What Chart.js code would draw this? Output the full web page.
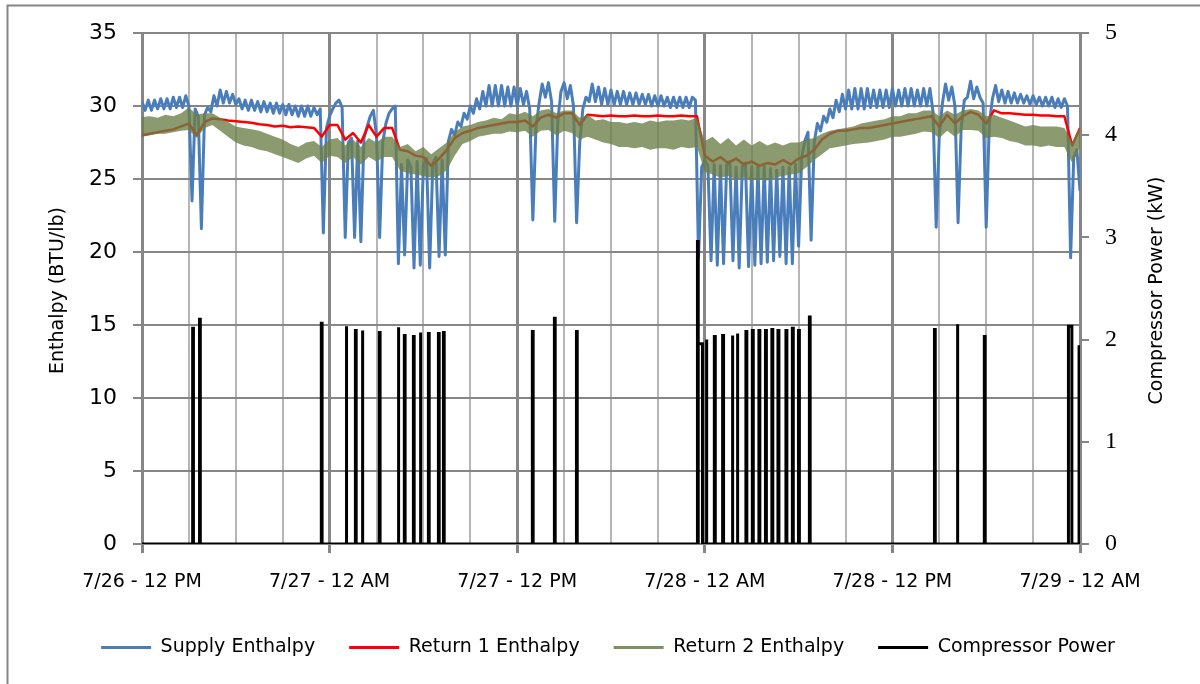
<!DOCTYPE html>
<html>
<head>
<meta charset="utf-8">
<title>Enthalpy and Compressor Power</title>
<script src="https://cdn.jsdelivr.net/npm/chart.js@4.4.1/dist/chart.umd.min.js"></script>
<style>
  html, body { margin: 0; padding: 0; background: #fff; }
  #wrap { width: 1200px; height: 684px; }
</style>
</head>
<body>
<div id="wrap"><canvas id="chart" width="1200" height="684"></canvas></div>
<script>
// Enthalpy / compressor power chart
// ---------------------------------------------------------------------------

// x axis: hours after 7/26 12 PM
const xTickLabels = ['7/26 - 12 PM', '7/27 - 12 AM', '7/27 - 12 PM', '7/28 - 12 AM', '7/28 - 12 PM', '7/29 - 12 AM'];
const leftAxisTitle = 'Enthalpy (BTU/lb)';
const rightAxisTitle = 'Compressor Power (kW)';

// Supply enthalpy, one sample every 0.2 h (BTU/lb)
const supplyStep = 0.2;
const supplyEnthalpy = [
  30.3, 29.7, 30.4, 29.7, 30.4, 29.8, 30.5, 29.8, 30.5, 29.8,
  30.6, 29.9, 30.6, 29.9, 30.7, 30.0, 23.5, 29.8, 29.3, 21.6,
  29.4, 29.9, 29.6, 30.7, 30.0, 31.1, 30.2, 31.0, 30.2, 30.8,
  30.1, 30.5, 29.8, 30.4, 29.7, 30.4, 29.7, 30.3, 29.6, 30.3,
  29.6, 30.2, 29.5, 30.2, 29.5, 30.1, 29.4, 30.1, 29.4, 30.0,
  29.3, 30.0, 29.3, 30.0, 29.3, 29.9, 29.4, 29.8, 21.3, 28.5,
  29.3, 29.8, 30.2, 30.4, 29.9, 21.0, 27.5, 27.8, 21.0, 27.6,
  20.7, 27.8, 28.6, 29.3, 29.7, 28.0, 21.0, 27.5, 28.8, 29.5,
  29.8, 30.0, 19.2, 26.0, 19.8, 26.3, 25.8, 18.9, 26.2, 19.1,
  26.0, 26.4, 18.9, 26.0, 26.5, 19.7, 26.3, 19.8, 27.6, 28.4,
  28.0, 28.9, 28.6, 29.5, 29.1, 30.0, 29.5, 30.5, 29.8, 31.0,
  30.0, 31.4, 30.0, 31.4, 30.0, 31.4, 30.0, 31.3, 30.0, 31.3,
  30.0, 31.2, 30.1, 31.0, 29.8, 22.2, 28.5, 30.2, 31.5, 30.6,
  31.6, 30.3, 22.1, 29.0, 31.0, 31.6, 30.5, 31.4, 30.0, 22.0,
  27.5, 29.8, 30.6, 30.3, 31.5, 30.3, 31.3, 30.1, 31.2, 30.1,
  31.1, 30.1, 31.0, 30.1, 31.0, 30.1, 30.9, 30.1, 30.9, 30.1,
  30.8, 30.1, 30.8, 30.0, 30.7, 30.0, 30.7, 30.0, 30.6, 29.9,
  30.6, 29.9, 30.6, 29.9, 30.6, 29.9, 30.6, 30.4, 19.6, 25.8,
  26.3, 25.9, 19.4, 26.0, 19.1, 25.9, 19.2, 26.0, 26.2, 19.4,
  25.8, 18.9, 25.9, 26.1, 19.0, 25.8, 19.1, 25.8, 19.2, 25.9,
  19.3, 25.7, 19.4, 25.6, 19.7, 25.8, 19.2, 25.8, 19.2, 26.0,
  20.4, 26.5, 27.6, 28.2, 20.8, 27.5, 28.8, 28.3, 29.3, 28.9,
  29.8, 29.2, 30.4, 29.6, 30.8, 29.8, 31.1, 29.8, 31.2, 29.8,
  31.2, 29.8, 31.2, 29.9, 31.1, 29.9, 31.1, 29.9, 31.1, 29.9,
  31.2, 30.0, 31.1, 30.0, 31.2, 30.0, 31.2, 30.0, 31.1, 30.0,
  31.2, 30.0, 31.2, 29.6, 21.7, 28.0, 30.2, 31.5, 30.4, 31.3,
  30.0, 22.0, 28.5, 30.4, 30.6, 31.7, 30.5, 31.3, 30.6, 30.2,
  21.7, 28.8, 30.5, 31.4, 30.3, 31.1, 30.2, 31.0, 30.2, 30.9,
  30.2, 30.8, 30.2, 30.7, 30.1, 30.7, 30.1, 30.6, 30.0, 30.6,
  30.0, 30.6, 29.9, 30.5, 29.9, 30.5, 30.0, 19.6, 26.5, 27.0,
  24.2,
];

// Return enthalpies, one sample every 0.5 h (BTU/lb)
const returnStep = 0.5;
const return1Enthalpy = [
  28.0, 28.1, 28.2, 28.3, 28.4, 28.6, 28.8, 28.0, 28.9, 29.15,
  29.1, 29.0, 28.95, 28.9, 28.85, 28.75, 28.7, 28.6, 28.65, 28.55,
  28.6, 28.55, 28.5, 27.9, 28.7, 28.7, 27.7, 28.15, 27.5, 28.7,
  27.9, 28.5, 28.5, 27.0, 26.9, 26.6, 26.5, 25.9, 26.4, 27.0,
  27.8, 28.15, 28.3, 28.5, 28.6, 28.7, 28.8, 28.9, 28.9, 29.0,
  28.6, 29.2, 29.4, 29.2, 29.5, 29.5, 28.7, 29.4, 29.35, 29.3,
  29.35, 29.3, 29.3, 29.35, 29.3, 29.3, 29.35, 29.3, 29.3, 29.35,
  29.3, 29.3, 26.6, 26.2, 26.5, 26.1, 26.4, 26.0, 26.2, 25.9,
  26.1, 26.0, 26.3, 26.0, 26.4, 26.6, 27.0, 27.7, 28.1, 28.3,
  28.3, 28.4, 28.5, 28.5, 28.6, 28.7, 28.8, 28.9, 29.0, 29.1,
  29.2, 29.3, 28.6, 29.4, 28.8, 29.3, 29.6, 29.4, 28.8, 29.7,
  29.5, 29.5, 29.45, 29.4, 29.4, 29.35, 29.35, 29.3, 29.3, 27.3,
  28.5,
];

// Return 2 is a noisy band: its top and bottom edges
const return2Upper = [
  29.25, 29.3, 29.2, 29.4, 29.3, 29.5, 29.9, 29.4, 29.5, 29.5,
  29.2, 28.9, 28.6, 28.5, 28.4, 28.3, 28.1, 27.9, 27.7, 27.4,
  27.2, 27.5, 27.6, 27.2, 27.7, 27.8, 27.3, 27.7, 27.2, 27.8,
  27.5, 27.9, 27.9, 27.2, 27.4, 26.9, 27.2, 26.7, 27.1, 27.5,
  28.2, 28.6, 28.7, 28.9, 29.0, 29.2, 29.1, 29.5, 29.4, 29.6,
  29.3, 29.7, 29.8, 29.5, 29.7, 29.7, 29.2, 29.4, 29.0, 29.1,
  28.9, 28.9, 28.8, 28.9, 28.8, 29.0, 28.9, 29.0, 29.0, 29.1,
  29.0, 29.2, 27.6, 27.9, 27.4, 27.8, 27.3, 27.7, 27.3, 27.6,
  27.3, 27.5, 27.3, 27.5, 27.5, 27.7, 27.8, 28.1, 28.3, 28.4,
  28.5, 28.6, 28.8, 28.9, 29.0, 29.1, 29.3, 29.3, 29.5, 29.5,
  29.7, 29.7, 29.3, 29.7, 29.4, 29.7, 29.8, 29.7, 29.3, 29.4,
  29.2, 29.0, 28.8, 28.6, 28.7, 28.6, 28.6, 28.6, 28.5, 27.5,
  28.6,
];
const return2Lower = [
  27.9, 28.0, 28.1, 28.1, 28.2, 28.3, 28.35, 27.8, 28.5, 28.7,
  28.3, 27.9, 27.5, 27.3, 27.2, 27.0, 26.9, 26.7, 26.5, 26.3,
  26.1, 26.4, 26.6, 26.1, 26.6, 26.5, 26.1, 26.5, 26.0, 26.5,
  26.2, 26.5, 26.5, 25.6, 25.4, 25.3, 25.2, 25.1, 25.2, 25.6,
  26.6, 27.4, 27.6, 27.9, 28.0, 28.1, 28.1, 28.25, 28.2, 28.3,
  27.9, 28.3, 28.35, 28.0, 28.3, 28.15, 27.7, 27.9, 27.7, 27.5,
  27.4, 27.2, 27.2, 27.1, 27.2, 27.0, 27.1, 27.1, 27.0, 27.2,
  27.1, 27.2, 25.5, 25.3, 25.1, 25.2, 25.0, 25.1, 24.9, 25.0,
  24.9, 25.1, 25.2, 25.3, 25.4, 25.8, 26.3, 26.7, 27.1, 27.2,
  27.3, 27.4, 27.45, 27.5, 27.6, 27.7, 27.9, 27.9, 28.0, 28.1,
  28.25, 28.2, 27.8, 28.3, 27.9, 28.35, 28.35, 28.3, 27.8, 27.9,
  27.8, 27.6, 27.5, 27.3, 27.3, 27.2, 27.3, 27.2, 27.2, 26.1,
  27.2,
];

// Compressor runs: start hour, stop hour, power (kW)
const compOnHours = [
  3.24, 3.68, 11.47, 13.05, 13.65, 14.08, 15.18, 16.38, 16.78, 17.36,
  17.79, 18.32, 18.96, 19.28, 24.97, 26.38, 27.79, 35.53, 35.58, 36.08,
  36.61, 37.14, 37.74, 38.06, 38.63, 39.04, 39.46, 39.88, 40.29, 40.68,
  41.19, 41.60, 41.99, 42.69, 50.69, 52.14, 53.88, 59.26, 59.94,
];
const compOffHours = [
  3.29, 3.73, 11.52, 13.10, 13.70, 14.13, 15.23, 16.43, 16.83, 17.41,
  17.84, 18.37, 19.01, 19.33, 25.02, 26.43, 27.84, 35.58, 35.85, 36.14,
  36.67, 37.20, 37.80, 38.12, 38.69, 39.10, 39.52, 39.94, 40.35, 40.74,
  41.25, 41.66, 42.05, 42.74, 50.74, 52.19, 53.93, 59.48, 60.0,
];
const compKw = [
  2.11, 2.20, 2.16, 2.13, 2.09, 2.09, 2.07, 2.12, 2.04, 2.03,
  2.07, 2.06, 2.06, 2.07, 2.08, 2.21, 2.08, 2.96, 1.96, 2.00,
  2.03, 2.04, 2.04, 2.06, 2.08, 2.09, 2.09, 2.09, 2.10, 2.09,
  2.09, 2.11, 2.09, 2.22, 2.10, 2.15, 2.03, 2.13, 1.93,
];

// -------------------------------------------------------------------------
// helpers
// -------------------------------------------------------------------------
function toPoints(values, step) {
  return values.map((v, i) => ({ x: i * step, y: v }));
}

function compressorPoints() {
  const pts = [{ x: 0, y: 0 }];
  compOnHours.forEach((on, i) => {
    const off = compOffHours[i];
    pts.push({ x: on, y: 0 }, { x: on, y: compKw[i] }, { x: off, y: compKw[i] }, { x: off, y: 0 });
  });
  pts.push({ x: 60, y: 0 });
  return pts;
}

const blue = '#4a7ebb';
const red = '#ff0000';
const olive = 'rgba(108,126,70,0.78)';
const legendColors = [blue, red, '#7f8f5f', null, '#000000'];
const majorGrid = '#868686';
const minorGrid = '#b6b6b6';

// frame, white background and the two rotated axis titles
const framePlugin = {
  id: 'frame',
  beforeDraw(chart) {
    const { ctx, width, height } = chart;
    ctx.save();
    ctx.fillStyle = '#fff';
    ctx.fillRect(0, 0, width, height);
    ctx.restore();
  },
  afterDraw(chart) {
    const { ctx, width, height, chartArea } = chart;
    const midY = (chartArea.top + chartArea.bottom) / 2 + 2;
    ctx.save();
    ctx.strokeStyle = majorGrid;
    ctx.lineWidth = 2;
    ctx.beginPath();
    ctx.moveTo(7.5, height);
    ctx.lineTo(7.5, 5.5);
    ctx.lineTo(width, 5.5);
    ctx.stroke();

    ctx.fillStyle = '#000';
    ctx.font = '19px "DejaVu Sans"';
    ctx.textAlign = 'center';
    ctx.textBaseline = 'alphabetic';
    ctx.save();
    ctx.translate(63, midY);
    ctx.rotate(-Math.PI / 2);
    ctx.fillText(leftAxisTitle, 0, 0);
    ctx.restore();
    ctx.save();
    ctx.translate(1162, midY);
    ctx.rotate(-Math.PI / 2);
    ctx.fillText(rightAxisTitle, 0, 0);
    ctx.restore();
    ctx.restore();
  },
};

Chart.defaults.font.family = '"DejaVu Sans"';
Chart.defaults.color = '#000';

new Chart(document.getElementById('chart'), {
  type: 'line',
  data: {
    datasets: [
      {
        label: 'Supply Enthalpy',
        data: toPoints(supplyEnthalpy, supplyStep),
        borderColor: blue,
        borderWidth: 3,
        borderJoinStyle: 'round',
        yAxisID: 'y',
        order: 5,
      },
      {
        label: 'Return 1 Enthalpy',
        data: toPoints(return1Enthalpy, returnStep),
        borderColor: red,
        borderWidth: 2.5,
        borderJoinStyle: 'round',
        yAxisID: 'y',
        order: 4,
      },
      {
        label: 'Return 2 Enthalpy',
        data: toPoints(return2Upper, returnStep),
        borderColor: olive,
        backgroundColor: olive,
        borderWidth: 0,
        fill: '+1',
        yAxisID: 'y',
        order: 3,
      },
      {
        label: 'Return 2 lower edge',
        data: toPoints(return2Lower, returnStep),
        borderColor: olive,
        borderWidth: 0,
        fill: false,
        yAxisID: 'y',
        order: 3,
      },
      {
        label: 'Compressor Power',
        data: compressorPoints(),
        borderColor: '#000',
        borderWidth: 3,
        yAxisID: 'y1',
        order: 1,
      },
    ],
  },
  options: {
    responsive: false,
    animation: false,
    events: [],
    elements: { point: { radius: 0 }, line: { tension: 0 } },
    layout: { padding: { top: 33, left: 16, right: 0, bottom: 17 } },
    scales: {
      x: {
        type: 'linear',
        min: 0,
        max: 60,
        afterFit(scale) { scale.height = 60; },
        ticks: {
          stepSize: 3,
          autoSkip: false,
          maxRotation: 0,
          padding: 18,
          font: { size: 19 },
          callback: (v) => (v % 12 === 0 ? xTickLabels[v / 12] : ''),
        },
        grid: {
          color: (c) => (c.tick && c.tick.value % 12 === 0 ? majorGrid : minorGrid),
          lineWidth: (c) => (c.tick && c.tick.value % 12 === 0 ? 3 : 2),
          tickColor: (c) => (c.tick && c.tick.value % 12 === 0 ? majorGrid : 'rgba(0,0,0,0)'),
          tickLength: 9,
        },
        border: { display: false },
      },
      y: {
        position: 'left',
        min: 0,
        max: 35,
        afterFit(scale) { scale.width = 126; },
        ticks: { stepSize: 5, padding: 16, font: { size: 22 } },
        grid: { color: majorGrid, lineWidth: 2, tickLength: 9 },
        border: { display: false },
      },
      y1: {
        position: 'right',
        min: 0,
        max: 5,
        afterFit(scale) { scale.width = 120; },
        ticks: { stepSize: 1, padding: 16, font: { family: '"Liberation Serif"', size: 24 } },
        grid: { drawOnChartArea: false, color: majorGrid, lineWidth: 2, tickLength: 9 },
        border: { display: false },
      },
    },
    plugins: {
      tooltip: { enabled: false },
      legend: {
        position: 'bottom',
        labels: {
          usePointStyle: true,
          pointStyle: 'line',
          pointStyleWidth: 50,
          padding: 34,
          font: { size: 19 },
          color: '#000',
          generateLabels(chart) {
            const items = Chart.defaults.plugins.legend.labels.generateLabels(chart);
            return items
              .filter((it) => it.datasetIndex !== 3)
              .sort((a, b) => a.datasetIndex - b.datasetIndex)
              .map((it) => Object.assign(it, {
                lineWidth: 3,
                strokeStyle: legendColors[it.datasetIndex],
                fillStyle: legendColors[it.datasetIndex],
                pointStyle: 'line',
              }));
          },
        },
      },
    },
  },
  plugins: [framePlugin],
});
</script>
</body>
</html>
